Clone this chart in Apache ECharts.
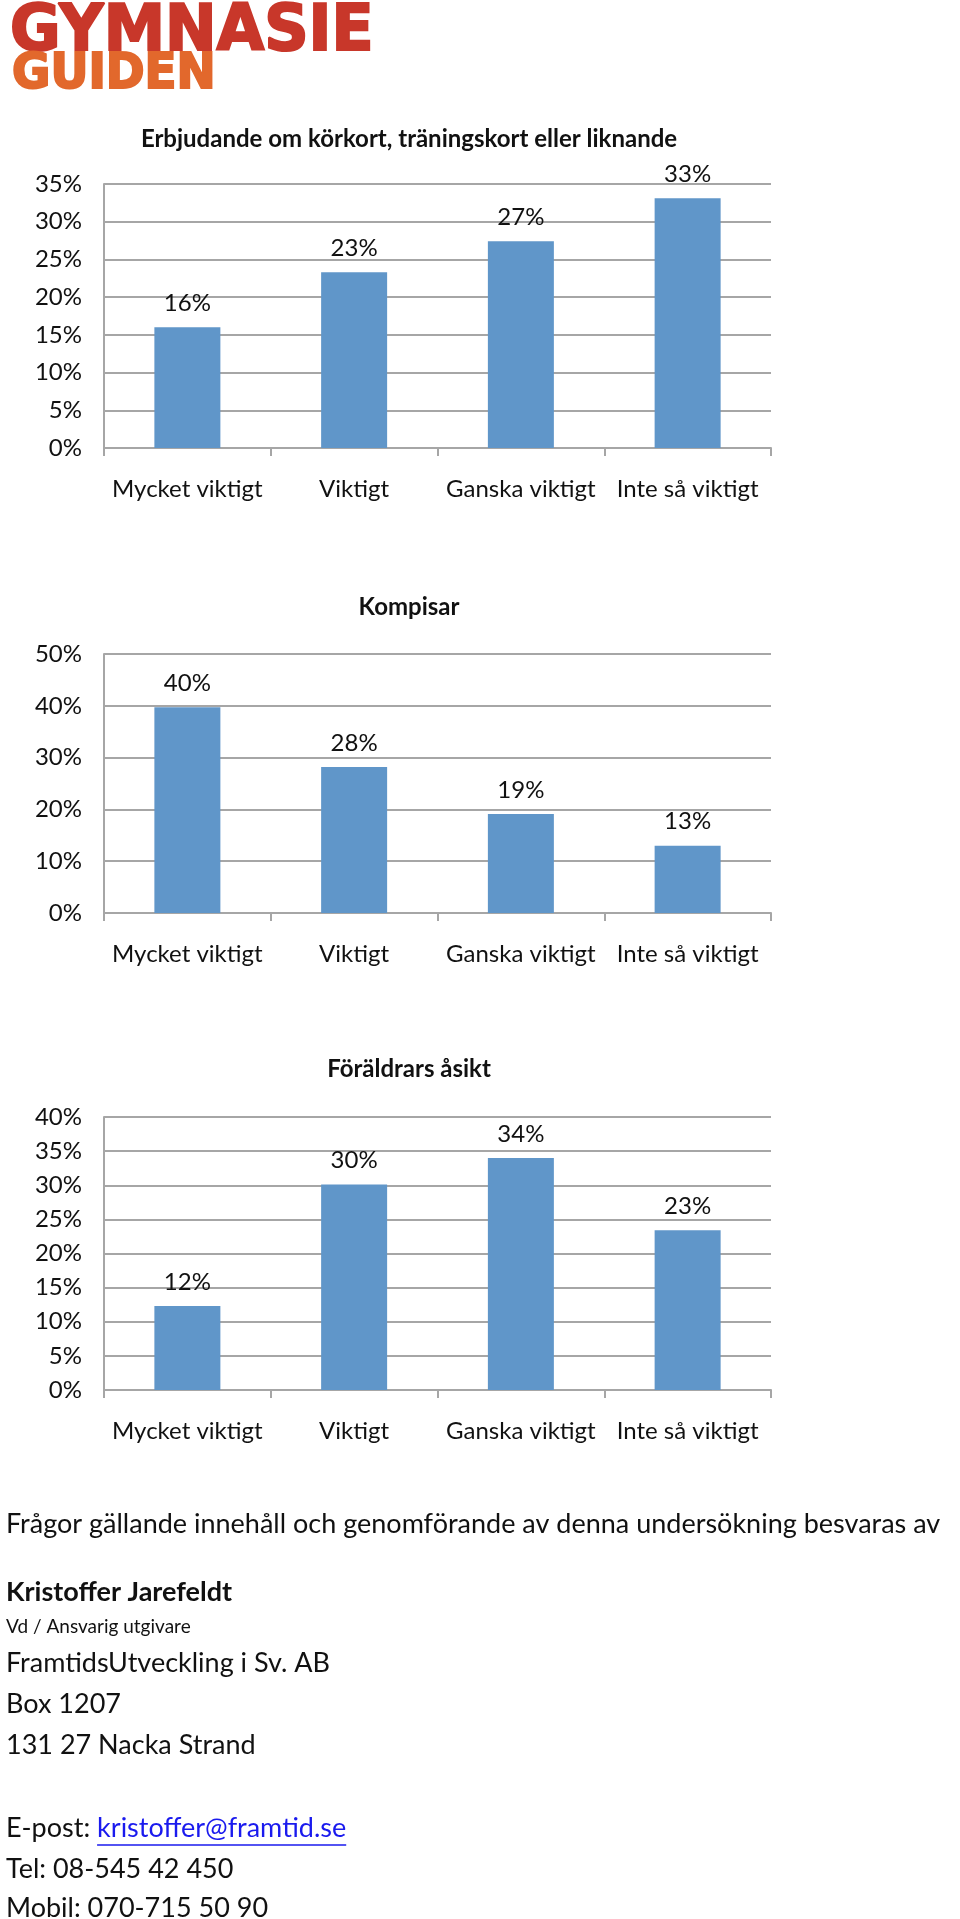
<!DOCTYPE html>
<html>
<head>
<meta charset="utf-8">
<script src="https://cdn.jsdelivr.net/npm/echarts@6/dist/echarts.min.js"></script>
<style>
  html, body { margin: 0; padding: 0; background: #fff; }
  #main { width: 960px; height: 1919px; }
</style>
</head>
<body>
<div id="main"></div>
<script>
// data
var categories = ['Mycket viktigt', 'Viktigt', 'Ganska viktigt', 'Inte så viktigt'];

var titles = [
    'Erbjudande om körkort, träningskort eller liknande',
    'Kompisar',
    'Föräldrars åsikt'
];

var korkortValues = [16.0, 23.3, 27.4, 33.1];
var kompisarValues = [39.7, 28.2, 19.1, 13.0];
var foraldrarValues = [12.3, 30.1, 34.0, 23.4];

var axisMax = [35, 50, 40];
var axisStep = [5, 10, 5];

var footerLines = [
    'Frågor gällande innehåll och genomförande av denna undersökning besvaras av',
    'Kristoffer Jarefeldt',
    'Vd / Ansvarig utgivare',
    'FramtidsUtveckling i Sv. AB',
    'Box 1207',
    '131 27 Nacka Strand'
];
var emailLabel = 'E-post: ';
var emailAddress = 'kristoffer@framtid.se';
var phoneLines = ['Tel: 08-545 42 450', 'Mobil: 070-715 50 90'];

var FONT = 'Lato, "Open Sans", sans-serif';
var LOGO_FONT = '"DejaVu Sans Condensed", "DejaVu Sans", sans-serif';
var BAR = '#6096c9';
var GRIDC = '#a6a6a6';
var TXT = 24;

// plot areas, in page pixels
var plots = [
    { top: 184, bottom: 448, titleY: 122 },
    { top: 654, bottom: 913, titleY: 590 },
    { top: 1117, bottom: 1390, titleY: 1052 }
];

var allValues = [korkortValues, kompisarValues, foraldrarValues];

var chart = echarts.init(document.getElementById('main'));

var measure = document.createElement('canvas').getContext('2d');
function textWidth(str, size, weight) {
    measure.font = (weight || 'normal') + ' ' + size + 'px ' + FONT;
    return measure.measureText(str).width;
}

var option = {
    backgroundColor: '#fff',
    animation: false,
    title: [],
    grid: [],
    xAxis: [],
    yAxis: [],
    series: [],
    graphic: []
};

for (var i = 0; i < 3; i++) {
    option.title.push({
        text: titles[i],
        left: 404,
        top: plots[i].titleY,
        textAlign: 'center',
        textStyle: { fontFamily: FONT, fontSize: 24, fontWeight: 'bold', color: '#111' }
    });
    option.grid.push({
        left: 104,
        width: 667,
        top: plots[i].top,
        height: plots[i].bottom - plots[i].top
    });
    option.xAxis.push({
        type: 'category',
        gridIndex: i,
        data: categories,
        axisLine: { lineStyle: { color: GRIDC, width: 2 } },
        axisTick: { show: true, length: 8, lineStyle: { color: GRIDC, width: 2 } },
        axisLabel: { interval: 0, margin: 29, fontFamily: FONT, fontSize: TXT, color: '#111' }
    });
    option.yAxis.push({
        type: 'value',
        gridIndex: i,
        min: 0,
        max: axisMax[i],
        interval: axisStep[i],
        axisLine: { show: true, lineStyle: { color: GRIDC, width: 2 } },
        axisTick: { show: false },
        splitLine: { lineStyle: { color: GRIDC, width: 2 } },
        axisLabel: {
            margin: 22,
            formatter: '{value}%',
            fontFamily: FONT,
            fontSize: TXT,
            color: '#111'
        }
    });
    option.series.push({
        type: 'bar',
        xAxisIndex: i,
        yAxisIndex: i,
        data: allValues[i],
        barWidth: 66,
        itemStyle: { color: BAR },
        label: {
            show: true,
            position: 'top',
            distance: 12,
            fontFamily: FONT,
            fontSize: TXT,
            color: '#111',
            formatter: function (p) { return Math.round(p.value) + '%'; }
        }
    });
}

// logo
option.graphic.push({
    type: 'text',
    x: 10,
    y: 33,
    scaleX: 1.07,
    style: {
        text: 'GYMNASIE',
        font: 'bold 64px ' + LOGO_FONT,
        fill: '#c8372a',
        stroke: '#c8372a',
        lineWidth: 2,
        verticalAlign: 'middle'
    }
});
option.graphic.push({
    type: 'text',
    x: 12,
    y: 75,
    scaleX: 1.04,
    style: {
        text: 'GUIDEN',
        font: 'bold 50px ' + LOGO_FONT,
        fill: '#e2682c',
        stroke: '#e2682c',
        lineWidth: 2,
        verticalAlign: 'middle'
    }
});

// footer text
var FOOT = 27;
var footerY = [1524, 1592, 1627, 1663, 1704, 1745];
var footerSize = [FOOT, FOOT, 19, FOOT, FOOT, FOOT];
var footerWeight = ['normal', 'bold', 'normal', 'normal', 'normal', 'normal'];
for (var k = 0; k < footerLines.length; k++) {
    option.graphic.push({
        type: 'text',
        x: 6,
        y: footerY[k],
        style: {
            text: footerLines[k],
            fontFamily: FONT,
            fontSize: footerSize[k],
            fontWeight: footerWeight[k],
            fill: '#111',
            verticalAlign: 'middle'
        }
    });
}

var emailX = 6 + textWidth(emailLabel, FOOT);
var emailW = textWidth(emailAddress, FOOT);
option.graphic.push({
    type: 'text', x: 6, y: 1828,
    style: { text: emailLabel, fontFamily: FONT, fontSize: FOOT, fill: '#111', verticalAlign: 'middle' }
});
option.graphic.push({
    type: 'text', x: emailX, y: 1828,
    style: { text: emailAddress, fontFamily: FONT, fontSize: FOOT, fill: '#1a1aee', verticalAlign: 'middle' }
});
option.graphic.push({
    type: 'line',
    shape: { x1: emailX, y1: 1845, x2: emailX + emailW, y2: 1845 },
    style: { stroke: '#1a1aee', lineWidth: 1.5 }
});
var phoneY = [1869, 1908];
for (var m = 0; m < phoneLines.length; m++) {
    option.graphic.push({
        type: 'text', x: 6, y: phoneY[m],
        style: { text: phoneLines[m], fontFamily: FONT, fontSize: FOOT, fill: '#111', verticalAlign: 'middle' }
    });
}

chart.setOption(option);
</script>
</body>
</html>
